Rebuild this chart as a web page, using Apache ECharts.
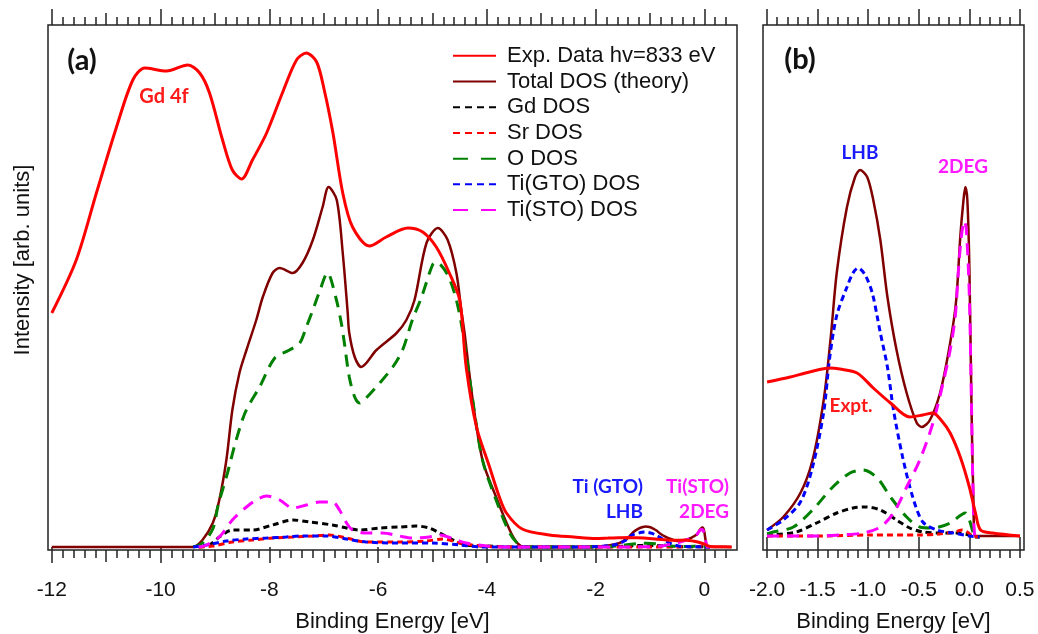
<!DOCTYPE html>
<html>
<head>
<meta charset="utf-8">
<title>Binding energy spectra</title>
<script src="https://cdn.jsdelivr.net/npm/echarts@6/dist/echarts.min.js"></script>
<style>
  html, body { margin: 0; padding: 0; background: #fff; }
  #chart { width: 1038px; height: 634px; }
</style>
</head>
<body>
<div id="chart"></div>
<script>
// ---- data: [binding energy eV, intensity arb. units] ----
// panel (a), wide range (-12 .. -2.2 eV)
const aExp = [[-12.0,234],[-11.55,287],[-11.18,354],[-10.81,420],[-10.51,467],[-10.29,479],[-9.89,476],[-9.5,482],[-9.28,474],[-9.1,454],[-8.86,407],[-8.68,377],[-8.51,368],[-8.31,387],[-8.05,414],[-7.76,454],[-7.5,487],[-7.32,494],[-7.13,485],[-6.99,457],[-6.83,414],[-6.65,354],[-6.47,320],[-6.16,301],[-5.85,310],[-5.45,319],[-5.18,315],[-4.93,300],[-4.69,274],[-4.5,247],[-4.38,180],[-4.19,120],[-3.95,80],[-3.77,50],[-3.64,34],[-3.35,18],[-2.85,12],[-2.4,10]]
const aTotal = [[-12,0],[-9.41,0],[-9.23,7],[-9.04,24],[-8.92,47],[-8.79,87],[-8.68,137],[-8.55,174],[-8.42,197],[-8.24,227],[-8.12,250],[-7.94,274],[-7.81,279],[-7.57,274],[-7.39,284],[-7.2,307],[-7.02,340],[-6.91,360],[-6.76,347],[-6.65,294],[-6.56,235],[-6.53,214],[-6.43,190],[-6.31,180],[-6.03,197],[-5.66,214],[-5.48,227],[-5.33,247],[-5.11,304],[-4.9,319],[-4.72,307],[-4.56,274],[-4.47,237],[-4.41,214],[-4.26,147],[-4.08,87],[-3.83,50],[-3.58,17],[-3.44,4],[-3.3,0],[-2.2,0]]
const aGd = [[-9.3,0],[-9.1,2],[-8.92,10],[-8.68,17],[-8.31,17],[-7.94,22],[-7.57,27],[-7.26,25],[-6.84,22],[-6.58,19],[-6.34,17],[-5.97,19],[-5.61,20],[-5.3,21],[-5.06,19],[-4.87,14],[-4.62,7],[-4.38,2],[-4.0,1],[-3.5,0],[-2.2,0]]
const aSr = [[-9.3,0],[-9.04,1],[-8.68,5],[-8.31,7],[-7.94,9],[-7.57,10],[-7.2,11],[-6.9,12],[-6.58,9],[-6.22,5],[-5.61,5],[-5.11,6],[-4.81,8],[-4.5,4],[-4.1,1],[-3.6,0],[-2.2,0]]
const aO = [[-9.4,0],[-9.23,4],[-9.04,18],[-8.94,42],[-8.77,74],[-8.62,105],[-8.44,135],[-8.18,160],[-7.9,189],[-7.63,197],[-7.44,204],[-7.32,220],[-7.2,237],[-7.08,255],[-6.93,274],[-6.78,250],[-6.68,225],[-6.62,204],[-6.53,170],[-6.43,150],[-6.34,144],[-6.22,149],[-5.97,164],[-5.73,180],[-5.55,197],[-5.37,227],[-5.2,250],[-5.0,282],[-4.93,285],[-4.72,272],[-4.56,247],[-4.44,214],[-4.26,147],[-4.08,87],[-3.83,47],[-3.58,14],[-3.4,2],[-3.2,0],[-2.2,0]]
const aTiGTO = [[-9.4,0],[-9.15,2],[-8.79,6],[-8.42,8],[-8.05,9],[-7.69,10],[-7.39,11],[-6.95,11],[-6.58,8],[-6.22,5],[-5.61,4],[-5.0,4],[-4.5,2],[-4.1,0],[-2.2,0]]
const aTiSTO = [[-9.3,0],[-9.15,2],[-8.92,10],[-8.68,27],[-8.42,40],[-8.24,47],[-8.05,51],[-7.81,47],[-7.57,39],[-7.32,42],[-7.08,45],[-6.84,45],[-6.71,37],[-6.58,24],[-6.47,17],[-6.22,14],[-5.92,14],[-5.61,11],[-5.37,9],[-5.06,10],[-4.87,12],[-4.56,7],[-4.38,4],[-4.0,1],[-3.6,0],[-2.2,0]]

// panel (b), near the Fermi level (-2 .. 0.5 eV), on its own intensity scale
const bExp = [[-2.0,155],[-1.77,160],[-1.58,165],[-1.38,169],[-1.28,168],[-1.11,164],[-0.95,149],[-0.78,134],[-0.59,120],[-0.46,122],[-0.36,124],[-0.28,117],[-0.19,104],[-0.09,80],[0.0,50],[0.06,24],[0.11,7],[0.23,4],[0.5,1]]
const bTotal = [[-2.0,7],[-1.84,20],[-1.67,44],[-1.55,77],[-1.44,137],[-1.37,200],[-1.31,265],[-1.21,330],[-1.13,360],[-1.08,367],[-1.01,360],[-0.95,337],[-0.88,297],[-0.81,240],[-0.72,187],[-0.62,144],[-0.52,114],[-0.47,110],[-0.39,117],[-0.29,144],[-0.19,194],[-0.13,237],[-0.09,300],[-0.06,335],[-0.04,350],[-0.02,337],[0.0,270],[0.02,137],[0.04,37],[0.06,1],[0.5,1]]
const bGd = [[-2.0,1],[-1.94,2],[-1.71,5],[-1.51,14],[-1.31,24],[-1.15,29],[-1.03,30],[-0.88,27],[-0.72,17],[-0.59,9],[-0.46,5],[-0.29,4],[-0.13,4],[0.0,2],[0.05,0],[0.1,0]]
const bSr = [[-2.0,1],[-1.5,1],[-1.0,2],[-0.5,2],[-0.3,3],[-0.15,5],[-0.07,7],[-0.02,5],[0.03,1],[0.1,0]]
const bO = [[-2.0,3],[-1.94,5],[-1.74,10],[-1.55,27],[-1.35,50],[-1.18,64],[-1.05,67],[-0.91,59],[-0.78,40],[-0.62,20],[-0.49,10],[-0.36,9],[-0.19,14],[-0.04,24],[0.0,17],[0.04,4],[0.08,0],[0.1,0]]
const bTiGTO = [[-2.0,7],[-1.84,17],[-1.67,35],[-1.55,70],[-1.44,125],[-1.38,180],[-1.31,222],[-1.21,250],[-1.15,264],[-1.1,269],[-1.03,262],[-0.96,244],[-0.91,220],[-0.88,204],[-0.81,170],[-0.75,127],[-0.66,80],[-0.56,40],[-0.46,15],[-0.32,7],[-0.16,4],[0.0,1],[0.1,0]]
const bTiSTO = [[-2.0,1],[-1.5,1],[-1.28,2],[-1.05,4],[-0.88,10],[-0.75,24],[-0.62,50],[-0.49,77],[-0.36,114],[-0.26,154],[-0.19,187],[-0.14,220],[-0.11,264],[-0.08,300],[-0.05,316],[-0.03,308],[0.0,240],[0.02,137],[0.04,30],[0.06,0],[0.1,0]]

// panel (b) intensities are shown ~18x magnified compared with panel (a)
const B_TO_A = 18

// axis ticks
const aMajorTicks = [-12, -10, -8, -6, -4, -2, 0]
const aMidTicks = [-11, -9, -7, -5, -3, -1]
const bMajorTicks = [-2.0, -1.5, -1.0, -0.5, 0.0, 0.5]

const seriesNames = ['Exp. Data hv=833 eV', 'Total DOS (theory)', 'Gd DOS', 'Sr DOS', 'O DOS', 'Ti(GTO) DOS', 'Ti(STO) DOS']

const aMinorTicks = []
for (let i = -60; i <= 2; i++) aMinorTicks.push(i / 5)
const bMinorTicks = []
for (let i = -20; i <= 5; i++) bMinorTicks.push(i / 10)

const DOT = [6, 4]
const DASH = [12, 8]
const styles = [
  { color: '#ff0000', width: 3, type: 'solid' },
  { color: '#800000', width: 2.5, type: 'solid' },
  { color: '#000000', width: 3, type: DOT },
  { color: '#ff0000', width: 3, type: DOT },
  { color: '#008000', width: 3, type: DASH },
  { color: '#0000ff', width: 3, type: DOT },
  { color: '#ff00ff', width: 3, type: DASH }
]

const wide = [aExp, aTotal, aGd, aSr, aO, aTiGTO, aTiSTO]
const zoomed = [bExp, bTotal, bGd, bSr, bO, bTiGTO, bTiSTO]

const FONT = 'Liberation Sans, Arial, sans-serif'
const BOLD = 'Lato, Noto Sans, sans-serif'

const chart = echarts.init(document.getElementById('chart'))

const tickAxis = (gridIndex, position, min, max, values, length, withLabels, fmt) => ({
  type: 'value',
  gridIndex,
  position,
  min,
  max,
  axisLine: { show: false },
  splitLine: { show: false },
  axisTick: {
    show: true,
    customValues: values,
    length,
    lineStyle: { color: '#222', width: 1.5 }
  },
  axisLabel: withLabels
    ? { show: true, customValues: values, margin: 30, fontSize: 21, color: '#111', fontFamily: FONT, formatter: fmt }
    : { show: false },
  name: withLabels ? 'Binding Energy [eV]' : '',
  nameLocation: 'middle',
  nameGap: 61,
  nameTextStyle: { fontSize: 22, color: '#111', fontFamily: FONT }
})

const A_MIN = -12.07, A_MAX = 0.6
const B_MIN = -2.04, B_MAX = 0.54
const fmtA = v => String(Math.round(v))
const fmtB = v => v.toFixed(1)

const xAxis = [
  tickAxis(0, 'bottom', A_MIN, A_MAX, aMajorTicks, 16, true, fmtA),
  tickAxis(0, 'bottom', A_MIN, A_MAX, aMidTicks, 12, false),
  tickAxis(0, 'bottom', A_MIN, A_MAX, aMinorTicks, 8, false),
  tickAxis(0, 'top', A_MIN, A_MAX, aMajorTicks, 16, false),
  tickAxis(0, 'top', A_MIN, A_MAX, aMidTicks, 12, false),
  tickAxis(0, 'top', A_MIN, A_MAX, aMinorTicks, 8, false),
  tickAxis(1, 'bottom', B_MIN, B_MAX, bMajorTicks, 16, true, fmtB),
  tickAxis(1, 'bottom', B_MIN, B_MAX, bMinorTicks, 8, false),
  tickAxis(1, 'top', B_MIN, B_MAX, bMajorTicks, 16, false),
  tickAxis(1, 'top', B_MIN, B_MAX, bMinorTicks, 8, false)
]

const series = []
seriesNames.forEach((name, i) => {
  const aData = wide[i].concat(zoomed[i].map(p => [p[0], p[1] / B_TO_A]))
  const common = {
    name,
    type: 'line',
    symbol: 'none',
    smooth: 0.3,
    lineStyle: styles[i],
    itemStyle: { color: styles[i].color },
    z: i === 0 ? 4 : 3,
    silent: true
  }
  series.push({ ...common, xAxisIndex: 0, yAxisIndex: 0, data: aData })
  series.push({ ...common, xAxisIndex: 6, yAxisIndex: 1, data: zoomed[i] })
})

const label = (text, x, y, color, size, align) => ({
  type: 'text',
  x,
  y,
  style: {
    text,
    fill: color,
    font: `bold ${size}px ${BOLD}`,
    textAlign: align || 'center',
    textVerticalAlign: 'middle'
  }
})

const option = {
  animation: false,
  backgroundColor: '#fff',
  grid: [
    { left: 48, top: 25, width: 689, height: 525, outerBoundsMode: 'none', containLabel: false, show: true, borderColor: '#222', borderWidth: 1.5 },
    { left: 763, top: 25, width: 261, height: 525, outerBoundsMode: 'none', containLabel: false, show: true, borderColor: '#222', borderWidth: 1.5 }
  ],
  xAxis,
  yAxis: [
    { type: 'value', gridIndex: 0, min: -3, max: 522, show: false },
    { type: 'value', gridIndex: 1, min: -13, max: 512, show: false }
  ],
  legend: {
    orient: 'vertical',
    left: 452,
    top: 43,
    padding: 0,
    itemWidth: 43,
    itemHeight: 14,
    itemGap: 0,
    selectedMode: false,
    itemStyle: { color: 'rgba(0,0,0,0)', borderColor: 'rgba(0,0,0,0)', borderWidth: 0, opacity: 0 },
    textStyle: { fontSize: 22, lineHeight: 25.7, color: '#111', fontFamily: FONT, padding: [0, 0, 0, 6] },
    data: seriesNames.map((name, i) => {
      const item = { name }
      if (styles[i].type === DOT) item.lineStyle = { type: [7, 5] }
      if (styles[i].type === DASH) item.lineStyle = { type: [15, 13] }
      return item
    })
  },
  graphic: [
    label('(a)', 82, 61, '#111', 29),
    label('(b)', 800, 60, '#111', 29),
    label('Gd 4f', 164, 97, '#ff1a1a', 20),
    label('Ti (GTO)', 643, 487, '#1a1aff', 19, 'right'),
    label('LHB', 643, 512, '#1a1aff', 19, 'right'),
    label('Ti(STO)', 729, 487, '#ff1aff', 19, 'right'),
    label('2DEG', 729, 512, '#ff1aff', 19, 'right'),
    label('LHB', 860, 153, '#1a1aff', 19),
    label('2DEG', 963, 167, '#ff1aff', 19),
    label('Expt.', 851, 406, '#ff1a1a', 19),
    {
      type: 'text',
      x: 23,
      y: 260,
      rotation: Math.PI / 2,
      style: {
        text: 'Intensity [arb. units]',
        fill: '#111',
        font: `22px ${FONT}`,
        textAlign: 'center',
        textVerticalAlign: 'middle'
      }
    }
  ],
  series
}

chart.setOption(option)
</script>
</body>
</html>
